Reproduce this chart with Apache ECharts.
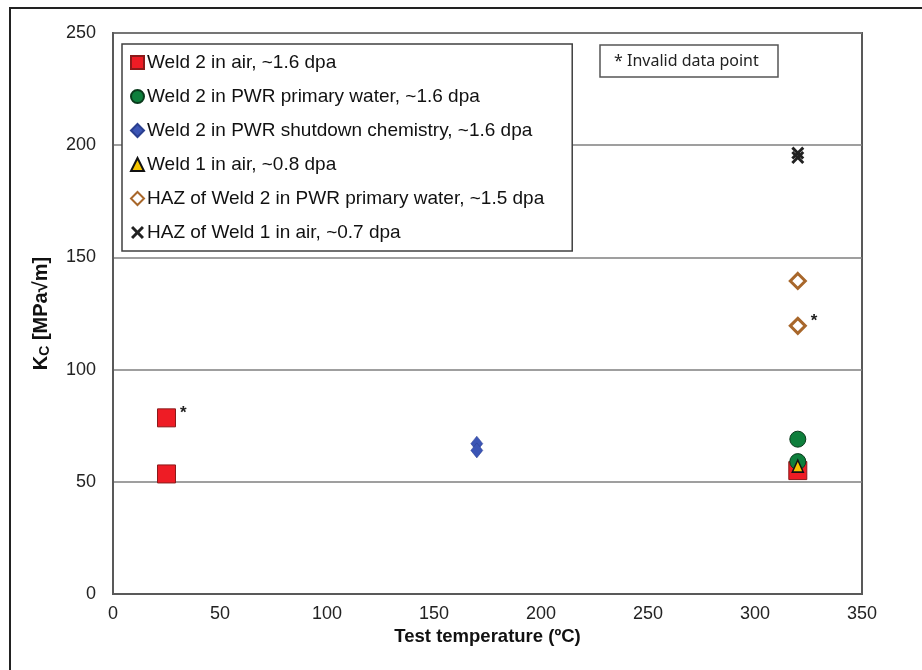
<!DOCTYPE html>
<html><head><meta charset="utf-8">
<script src="https://cdn.jsdelivr.net/npm/echarts@6/dist/echarts.min.js"></script>
<style>html,body{margin:0;padding:0;background:#fff}#c{width:922px;height:670px}</style>
</head><body><div id="c"></div>
<script>
var xTicks = [0, 50, 100, 150, 200, 250, 300, 350];
var yTicks = [0, 50, 100, 150, 200, 250];

var seriesNames = [
  'Weld 2 in air, ~1.6 dpa',
  'Weld 2 in PWR primary water, ~1.6 dpa',
  'Weld 2 in PWR shutdown chemistry, ~1.6 dpa',
  'Weld 1 in air, ~0.8 dpa',
  'HAZ of Weld 2 in PWR primary water, ~1.5 dpa',
  'HAZ of Weld 1 in air, ~0.7 dpa'
];

var weld2AirX = [25, 25, 320];
var weld2AirY = [78.5, 53.5, 55];
var weld2AirInvalid = [true, false, false];

var weld2WaterX = [320, 320];
var weld2WaterY = [69, 59];

var weld2ShutX = [170, 170];
var weld2ShutY = [67, 64];

var weld1AirX = [320];
var weld1AirY = [57];

var hazWeld2X = [320, 320];
var hazWeld2Y = [139.5, 119.5];
var hazWeld2Invalid = [false, true];

var hazWeld1X = [320, 320];
var hazWeld1Y = [196.5, 194.5];

function pts(xs, ys, inv) {
  return xs.map(function (x, i) {
    var p = { value: [x, ys[i]] };
    if (inv && inv[i]) {
      p.label = { show: true, formatter: '*', position: 'right', offset: [-1, -5], fontSize: 17, fontWeight: 'bold', color: '#222', fontFamily: 'Liberation Sans' };
    }
    return p;
  });
}

var xPath = 'path://M0,1.6 L1.6,0 L5,3.4 L8.4,0 L10,1.6 L6.6,5 L10,8.4 L8.4,10 L5,6.6 L1.6,10 L0,8.4 L3.4,5 Z';

var chart = echarts.init(document.getElementById('c'));
chart.setOption({
  animation: false,
  backgroundColor: '#fff',
  graphic: [
    { type: 'rect', shape: { x: 10, y: 8, width: 940, height: 700 }, style: { fill: 'none', stroke: '#222', lineWidth: 2 }, z: -10 }
  ],
  title: {
    text: '* Invalid data point',
    left: 600, top: 45,
    padding: [8, 20, 8, 14],
    borderColor: '#555', borderWidth: 1.5,
    textStyle: { fontFamily: 'Noto Sans', fontSize: 16, fontWeight: 'normal', color: '#222' }
  },
  grid: { left: 113, right: 60, top: 33, bottom: 76, show: true, borderColor: '#595959', borderWidth: 2, backgroundColor: 'transparent' },
  legend: {
    orient: 'vertical', left: 122, top: 44,
    padding: [9, 28, 9, 8],
    itemGap: 15, itemWidth: 13, itemHeight: 13,
    borderColor: '#404040', borderWidth: 1.5,
    backgroundColor: '#fff',
    textStyle: { fontFamily: 'Liberation Sans', fontSize: 19, color: '#111', padding: [0, 0, 0, -2] },
    data: seriesNames
  },
  xAxis: {
    type: 'value', min: 0, max: 350, interval: 50,
    name: 'Test temperature (ºC)', nameLocation: 'middle', nameGap: 30,
    nameTextStyle: { fontFamily: 'Liberation Sans', fontSize: 18.5, fontWeight: 'bold', color: '#111' },
    axisLine: { show: true, lineStyle: { color: '#595959', width: 2 } },
    axisTick: { show: false },
    splitLine: { show: false },
    axisLabel: { fontFamily: 'Liberation Sans', fontSize: 18, color: '#222', margin: 11 }
  },
  yAxis: {
    type: 'value', min: 0, max: 250, interval: 50,
    name: '{k|K}{s|C}{k| [MPa√m]}', nameLocation: 'middle', nameGap: 61,
    nameTextStyle: { rich: {
      k: { fontFamily: 'Liberation Sans', fontSize: 20, fontWeight: 'bold', color: '#111' },
      s: { fontFamily: 'Liberation Sans', fontSize: 14, fontWeight: 'bold', color: '#111', verticalAlign: 'bottom', padding: [8, 0, 0, 0] }
    } },
    axisLine: { show: true, lineStyle: { color: '#595959', width: 2 } },
    axisTick: { show: false },
    splitLine: { show: true, lineStyle: { color: '#7f7f7f', width: 1.5 } },
    axisLabel: { fontFamily: 'Liberation Sans', fontSize: 18, color: '#222', margin: 17 }
  },
  series: [
    { name: seriesNames[0], type: 'scatter', symbol: 'rect', symbolSize: 18, z: 2,
      itemStyle: { color: '#ee1c25', borderColor: '#8b1a1a', borderWidth: 1, opacity: 1 },
      data: pts(weld2AirX, weld2AirY, weld2AirInvalid) },
    { name: seriesNames[1], type: 'scatter', symbol: 'circle', symbolSize: 16, z: 3,
      itemStyle: { color: '#0e7f3c', borderColor: '#0a3a1c', borderWidth: 1, opacity: 1 },
      data: pts(weld2WaterX, weld2WaterY) },
    { name: seriesNames[2], type: 'scatter', symbol: 'diamond', symbolSize: [12, 15], z: 3,
      itemStyle: { color: '#3b55b5', borderColor: '#2a3f8f', borderWidth: 0.5, opacity: 1 },
      data: pts(weld2ShutX, weld2ShutY) },
    { name: seriesNames[3], type: 'scatter', symbol: 'triangle', symbolSize: [11, 12], z: 4,
      itemStyle: { color: '#f5c400', borderColor: '#111', borderWidth: 1.5, opacity: 1 },
      data: pts(weld1AirX, weld1AirY) },
    { name: seriesNames[4], type: 'scatter', symbol: 'diamond', symbolSize: 15, z: 3,
      itemStyle: { color: '#fff', borderColor: '#a8672b', borderWidth: 3, opacity: 1 },
      data: pts(hazWeld2X, hazWeld2Y, hazWeld2Invalid) },
    { name: seriesNames[5], type: 'scatter', symbol: xPath, symbolSize: 13, z: 3,
      itemStyle: { color: '#222', borderWidth: 0, opacity: 1 },
      data: pts(hazWeld1X, hazWeld1Y) }
  ]
});
</script>
</body></html>
